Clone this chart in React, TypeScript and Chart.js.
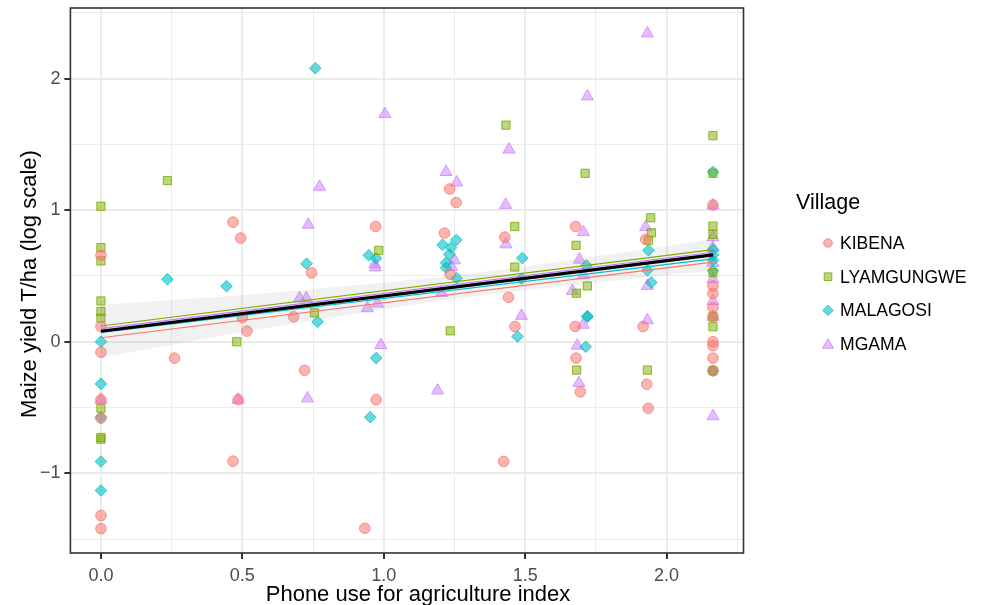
import React, { useEffect, useRef } from 'react';
import { Chart, registerables } from 'chart.js';

Chart.register(...registerables);

// ---------- data ----------
const villages = ['KIBENA', 'LYAMGUNGWE', 'MALAGOSI', 'MGAMA'];

const kibenaX = [0, 0, 0, 0, 0, 0, 0, 0.26, 0.467, 0.494, 0.5, 0.516, 0.485, 0.467, 0.681, 0.72, 0.745, 0.971, 0.973, 0.933, 1.233, 1.256, 1.215, 1.235, 1.428, 1.441, 1.464, 1.424, 1.678, 1.677, 1.68, 1.695, 1.917, 1.926, 1.93, 1.935, 2.164, 2.164, 2.164, 2.164, 2.164, 2.164, 2.164, 2.164, 2.164];
const kibenaY = [0.657, 0.116, -0.08, -0.44, -0.58, -1.32, -1.42, -0.124, 0.909, 0.788, 0.184, 0.081, -0.44, -0.907, 0.19, -0.217, 0.523, 0.876, -0.44, -1.417, 1.161, 1.058, 0.826, 0.513, 0.795, 0.338, 0.116, -0.909, 0.876, 0.116, -0.124, -0.381, 0.116, 0.778, -0.323, -0.505, 1.04, 0.424, 0.366, 0.26, 0.19, 0.0, -0.03, -0.124, -0.22];

const lyamX = [0, 0, 0, 0, 0, 0, 0, 0, 0, 0.235, 0.48, 0.755, 0.982, 1.235, 1.432, 1.463, 1.463, 1.712, 1.68, 1.72, 1.681, 1.682, 1.944, 1.946, 1.936, 1.932, 2.164, 2.164, 2.164, 2.164, 2.164, 2.164, 2.164, 2.164];
const lyamY = [1.03, 0.715, 0.614, 0.31, 0.23, 0.18, -0.505, -0.727, -0.74, 1.225, 0.0, 0.22, 0.695, 0.083, 1.646, 0.876, 0.568, 1.28, 0.733, 0.424, 0.369, -0.215, 0.942, 0.828, 0.77, -0.215, 1.566, 1.28, 0.879, 0.816, 0.525, 0.19, 0.114, -0.22];

const malagosiX = [0, 0, 0, 0, 0, 0.235, 0.444, 0.758, 0.727, 0.766, 0.947, 0.973, 0.973, 0.952, 1.208, 1.238, 1.232, 1.22, 1.22, 1.258, 1.256, 1.49, 1.487, 1.473, 1.717, 1.72, 1.72, 1.714, 1.936, 1.932, 1.946, 2.164, 2.164, 2.164, 2.164, 2.164, 2.164];
const malagosiY = [0.0, -0.32, -0.575, -0.91, -1.13, 0.475, 0.422, 2.078, 0.593, 0.152, 0.657, 0.634, -0.124, -0.573, 0.737, 0.715, 0.664, 0.601, 0.563, 0.483, 0.773, 0.636, 0.48, 0.04, 0.58, 0.189, 0.195, -0.038, 0.695, 0.543, 0.45, 1.29, 0.7, 0.66, 0.62, 0.54, -0.22];

const mgamaX = [0, 0.485, 0.702, 0.726, 0.733, 0.773, 0.73, 1.004, 0.942, 0.978, 0.968, 0.97, 0.99, 1.22, 1.258, 1.25, 1.24, 1.204, 1.19, 1.443, 1.431, 1.432, 1.487, 1.72, 1.706, 1.692, 1.706, 1.667, 1.705, 1.684, 1.69, 1.932, 1.926, 1.932, 1.932, 2.164, 2.164, 2.164, 2.164, 2.164, 2.164, 2.164, 2.164];
const mgamaY = [-0.44, -0.44, 0.33, 0.33, 0.889, 1.177, -0.43, 1.73, 0.255, 0.29, 0.589, 0.565, -0.025, 1.29, 1.21, 0.619, 0.568, 0.371, -0.371, 1.46, 1.04, 0.74, 0.197, 1.864, 0.833, 0.624, 0.505, 0.386, 0.129, -0.03, -0.313, 2.343, 0.871, 0.424, 0.164, 1.035, 0.795, 0.715, 0.6, 0.475, 0.31, 0.19, -0.566];

// fitted lines (x endpoints, y per village) and overall fit with its confidence band
const fitX = [0, 2.164];
const kibenaFit = [0.03, 0.605];
const lyamFit = [0.12, 0.7];
const malagosiFit = [0.07, 0.63];
const mgamaFit = [0.1, 0.68];
const overallFit = [0.08, 0.66];

const bandX = [0, 0.25, 0.5, 0.75, 1.0, 1.25, 1.5, 1.75, 2.0, 2.164];
const bandUpper = [0.28, 0.317, 0.354, 0.401, 0.448, 0.505, 0.572, 0.649, 0.726, 0.78];
const bandLower = [-0.12, -0.023, 0.074, 0.161, 0.248, 0.325, 0.392, 0.449, 0.506, 0.54];

const xMajorTicks = [0, 0.5, 1.0, 1.5, 2.0];
const xMinorTicks = [0.25, 0.75, 1.25, 1.75, 2.25];
const yMajorTicks = [-1, 0, 1, 2];
const yMinorTicks = [-1.5, -0.5, 0.5, 1.5, 2.5];

const xLimits = [-0.108, 2.272];
const yLimits = [-1.605, 2.536];

const xTitle = 'Phone use for agriculture index';
const yTitle = 'Maize yield T/ha (log scale)';
const legendTitle = 'Village';

// ---------- styles ----------
const FONT = '"Liberation Sans", Arial, Helvetica, sans-serif';
const styles = [
  { shape: 'circle', r: 5.3, fill: 'rgba(248,118,109,0.55)', stroke: 'rgba(248,118,109,0.75)', line: '#F8766D' },
  { shape: 'rect', r: 5.8, fill: 'rgba(124,174,0,0.5)', stroke: 'rgba(124,174,0,0.85)', line: '#7CAE00' },
  { shape: 'rectRot', r: 5.8, fill: 'rgba(0,191,196,0.6)', stroke: 'rgba(0,191,196,0.8)', line: '#00BFC4' },
  { shape: 'triangle', r: 7, fill: 'rgba(199,124,255,0.5)', stroke: 'rgba(199,124,255,0.7)', line: '#C77CFF' },
];

const zip = (xs: number[], ys: number[]) => xs.map((x, i) => ({ x, y: ys[i] }));

function drawSymbol(ctx: CanvasRenderingContext2D, shape: string, x: number, y: number, r: number, fill: string, stroke: string) {
  ctx.beginPath();
  if (shape === 'circle') {
    ctx.arc(x, y, r, 0, Math.PI * 2);
  } else if (shape === 'rect') {
    const s = r * Math.SQRT1_2;
    ctx.rect(x - s, y - s, 2 * s, 2 * s);
  } else if (shape === 'rectRot') {
    ctx.moveTo(x, y - r);
    ctx.lineTo(x + r, y);
    ctx.lineTo(x, y + r);
    ctx.lineTo(x - r, y);
    ctx.closePath();
  } else {
    for (let k = 0; k < 3; k++) {
      const a = (k * 2 * Math.PI) / 3;
      const px = x + Math.sin(a) * r;
      const py = y - Math.cos(a) * r;
      if (k === 0) ctx.moveTo(px, py); else ctx.lineTo(px, py);
    }
    ctx.closePath();
  }
  ctx.fillStyle = fill;
  ctx.fill();
  ctx.strokeStyle = stroke;
  ctx.lineWidth = 1;
  ctx.stroke();
}

const decorPlugin = {
  id: 'decor',
  afterDraw(chart: any) {
    const { ctx, chartArea } = chart;
    ctx.save();
    // panel border
    ctx.strokeStyle = '#333333';
    ctx.lineWidth = 1.6;
    ctx.strokeRect(chartArea.left, chartArea.top, chartArea.right - chartArea.left, chartArea.bottom - chartArea.top);

    // axis titles
    ctx.fillStyle = '#000000';
    ctx.font = `22px ${FONT}`;
    ctx.textAlign = 'center';
    ctx.textBaseline = 'middle';
    ctx.fillText(xTitle, 418, 595);
    ctx.save();
    ctx.translate(30, 284);
    ctx.rotate(-Math.PI / 2);
    ctx.fillText(yTitle, 0, 0);
    ctx.restore();

    // legend
    ctx.textAlign = 'left';
    ctx.font = `21.5px ${FONT}`;
    ctx.fillText(legendTitle, 796, 203);
    ctx.font = `17.6px ${FONT}`;
    villages.forEach((name, i) => {
      const y = 243 + i * 33.7;
      const st = styles[i];
      const r = st.shape === 'triangle' ? 6.4 : st.shape === 'rect' ? 5.4 : st.shape === 'rectRot' ? 5.2 : 4.3;
      drawSymbol(ctx, st.shape, 828, y + (st.shape === 'triangle' ? 1 : 0), r, st.fill, st.stroke);
      ctx.fillStyle = '#000000';
      ctx.fillText(name, 840, y + 1);
    });
    ctx.restore();
  },
};

const isMajor = (v: number, majors: number[]) => majors.some((m) => Math.abs(m - v) < 1e-6);

export default function App() {
  const ref = useRef<HTMLCanvasElement | null>(null);

  useEffect(() => {
    if (!ref.current) return;
    const xs = [kibenaX, lyamX, malagosiX, mgamaX];
    const ys = [kibenaY, lyamY, malagosiY, mgamaY];
    const fits = [kibenaFit, lyamFit, malagosiFit, mgamaFit];

    const pointSets: any[] = villages.map((name, i) => ({
      type: 'scatter',
      label: name,
      data: zip(xs[i], ys[i]),
      showLine: false,
      pointStyle: styles[i].shape,
      pointRadius: styles[i].r,
      pointBackgroundColor: styles[i].fill,
      pointBorderColor: styles[i].stroke,
      pointBorderWidth: 1,
      order: 5,
    }));

    const nPts = pointSets.length;
    const bandSets: any[] = [
      {
        type: 'line',
        label: 'upper',
        data: zip(bandX, bandUpper),
        borderWidth: 0,
        borderColor: 'rgba(0,0,0,0)',
        pointRadius: 0,
        backgroundColor: 'rgba(150,150,150,0.13)',
        fill: nPts + 1,
        tension: 0.3,
        order: 3,
      },
      {
        type: 'line',
        label: 'lower',
        data: zip(bandX, bandLower),
        borderWidth: 0,
        borderColor: 'rgba(0,0,0,0)',
        pointRadius: 0,
        fill: false,
        tension: 0.3,
        order: 3,
      },
    ];

    const fitSets: any[] = villages.map((name, i) => ({
      type: 'line',
      label: name + ' fit',
      data: zip(fitX, fits[i]),
      borderColor: styles[i].line,
      borderWidth: 1.1,
      pointRadius: 0,
      fill: false,
      order: 2,
    }));

    const overallSet: any = {
      type: 'line',
      label: 'overall',
      data: zip(fitX, overallFit),
      borderColor: '#000000',
      borderWidth: 3.2,
      pointRadius: 0,
      fill: false,
      order: 1,
    };

    const gridColor = '#EBEBEB';

    const chart = new Chart(ref.current, {
      type: 'scatter',
      data: { datasets: [...pointSets, ...bandSets, ...fitSets, overallSet] },
      options: {
        animation: false,
        responsive: false,
        devicePixelRatio: 1,
        layout: { padding: { left: 0, right: 240.5, top: 6.2, bottom: 0 } },
        plugins: {
          legend: { display: false },
          tooltip: { enabled: false },
        },
        scales: {
          x: {
            type: 'linear',
            min: xLimits[0],
            max: xLimits[1],
            afterBuildTicks: (scale: any) => {
              scale.ticks = [...xMajorTicks, ...xMinorTicks].sort((a, b) => a - b).map((v) => ({ value: v }));
            },
            afterFit: (scale: any) => {
              scale.height = 52;
              scale.paddingLeft = 0;
              scale.paddingRight = 0;
            },
            border: { display: false },
            grid: {
              color: gridColor,
              lineWidth: (c: any) => (isMajor(c.tick?.value, xMajorTicks) ? 2 : 1),
              tickColor: (c: any) => (isMajor(c.tick?.value, xMajorTicks) ? '#333333' : 'rgba(0,0,0,0)'),
              tickWidth: 2,
              tickLength: 6,
              drawTicks: true,
            },
            ticks: {
              autoSkip: false,
              maxRotation: 0,
              padding: 6,
              color: '#4D4D4D',
              font: { family: FONT, size: 18 },
              callback: (v: any) => (isMajor(v, xMajorTicks) ? Number(v).toFixed(1) : ''),
            },
          },
          y: {
            type: 'linear',
            min: yLimits[0],
            max: yLimits[1],
            afterBuildTicks: (scale: any) => {
              scale.ticks = [...yMajorTicks, ...yMinorTicks].sort((a, b) => a - b).map((v) => ({ value: v }));
            },
            afterFit: (scale: any) => {
              scale.width = 70.4;
              scale.paddingTop = 0;
              scale.paddingBottom = 0;
            },
            border: { display: false },
            grid: {
              color: gridColor,
              lineWidth: (c: any) => (isMajor(c.tick?.value, yMajorTicks) ? 2 : 1),
              tickColor: (c: any) => (isMajor(c.tick?.value, yMajorTicks) ? '#333333' : 'rgba(0,0,0,0)'),
              tickWidth: 2,
              tickLength: 6,
              drawTicks: true,
            },
            ticks: {
              autoSkip: false,
              padding: 4,
              color: '#4D4D4D',
              font: { family: FONT, size: 18 },
              callback: (v: any) => {
                if (!isMajor(v, yMajorTicks)) return '';
                const n = Math.round(Number(v));
                return n < 0 ? '\u2212' + Math.abs(n) : String(n);
              },
            },
          },
        },
      },
      plugins: [decorPlugin],
    } as any);

    return () => chart.destroy();
  }, []);

  return (
    <div style={{ position: 'absolute', left: 0, top: 0, width: 984, height: 605, background: '#ffffff' }}>
      <canvas ref={ref} width={984} height={605} style={{ width: 984, height: 605, display: 'block' }} />
    </div>
  );
}
